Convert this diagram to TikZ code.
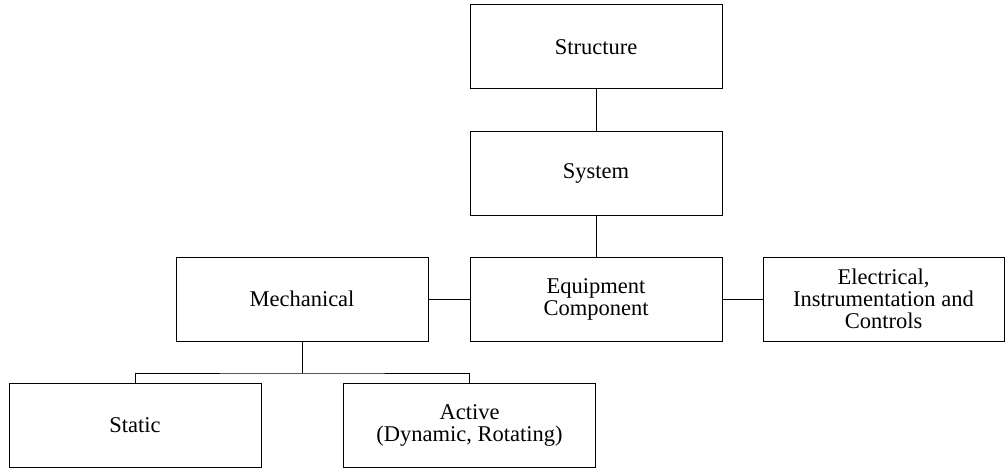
\documentclass[tikz,border=0pt]{standalone}
\usepackage{fontspec}
\setmainfont{Liberation Serif}
\begin{document}
\begin{tikzpicture}[x=1pt,y=-1pt,
    box/.style={draw, line width=1pt, minimum width=252pt, minimum height=84pt,
      inner sep=0pt, align=center, font=\fontsize{22.5}{22}\selectfont}]
    \useasboundingbox (0,0) rectangle (1005,468);
    \node[box] (struct) at (596,47) {Structure};
    \node[box] (sys) at (596,173.5) {System};
    \node[box] (equip) at (596,299) {Equipment\\Component};
    \node[box] (mech) at (302,299) {Mechanical};
    \node[box, minimum width=241pt] (eic) at (883.5,299) {Electrical,\\Instrumentation and\\Controls};
    \node[box] (static) at (135,425) {Static};
    \node[box] (active) at (469.5,425) {Active\\(Dynamic, Rotating)};
    \coordinate (bus) at (302,373);
    \draw[line width=1pt] (struct) -- (sys);
    \draw[line width=1pt] (sys) -- (equip);
    \draw[line width=1pt] (mech) -- (equip);
    \draw[line width=1pt] (equip) -- (eic);
    \draw[line width=1pt] (mech) -- (bus);
    \draw[line width=1pt] (static.north) |- (bus) -| (active.north);
\end{tikzpicture}
\end{document}
